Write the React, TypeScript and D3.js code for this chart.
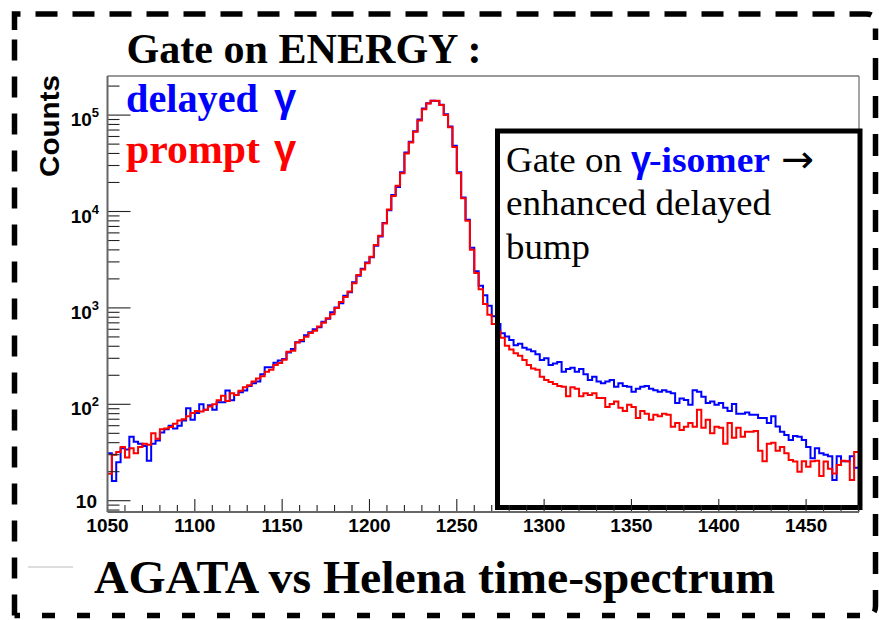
import React from "react";
import * as d3 from "d3";

// histogram binning (keV-ish channels), 2.5 per bin, first bin at 1050
const binStart = 1050;
const binWidth = 2.5;

// delayed gamma (blue)
const delayed = [
  31, 16, 25, 35, 34, 46, 41, 39, 37, 26,
  39, 42, 51, 55, 60, 56, 60, 68, 91, 69,
  81, 100, 88, 98, 88, 105, 105, 139, 110, 125,
  133, 139, 155, 165, 172, 205, 243, 243, 270, 285,
  295, 345, 375, 440, 450, 520, 560, 600, 630, 720,
  770, 900, 1010, 1120, 1340, 1450, 1850, 2150, 2550, 2950,
  3350, 4400, 5500, 7600, 10300, 14800, 18000, 25500, 41000, 53000,
  68000, 90000, 117000, 133000, 141000, 140000, 128000, 102000, 76000, 48000,
  25500, 14000, 8200, 4200, 2400, 1700, 1350, 1050, 820, 680,
  545, 505, 465, 410, 425, 385, 370, 355, 330, 288,
  300, 255, 265, 275, 218, 232, 240, 218, 232, 205,
  179, 193, 172, 165, 172, 179, 152, 165, 155, 152,
  135, 145, 152, 155, 145, 140, 135, 140, 135, 130,
  103, 115, 111, 99, 140, 135, 120, 103, 107, 99,
  103, 92, 85, 101, 80, 80, 82, 78, 78, 72,
  72, 64, 75, 59, 52, 48, 42.6, 47, 46, 42.6,
  36, 27.5, 35, 31, 30, 29, 16.4, 29, 25.7, 25.7,
  29, 22,
];

// prompt gamma (red)
const prompt = [
  19, 30, 32, 36, 28, 35, 31, 36, 39, 38,
  50, 44, 55, 56, 58, 63, 68, 70, 75, 81,
  85, 84, 88, 95, 100, 110, 123, 108, 130, 125,
  138, 150, 158, 172, 185, 195, 218, 228, 255, 268,
  290, 351, 360, 437, 464, 502, 548, 580, 640, 700,
  780, 860, 1000, 1150, 1300, 1480, 1800, 2200, 2500, 2900,
  3400, 4500, 5600, 7500, 10500, 14500, 18500, 25000, 40000, 52000,
  67000, 88000, 115000, 132000, 141000, 141000, 127000, 100000, 75000, 46800,
  24900, 13700, 8000, 4000, 2300, 1560, 1100, 850, 680, 570,
  490, 405, 370, 338, 318, 288, 255, 235, 228, 193,
  179, 170, 162, 155, 152, 121, 150, 145, 121, 130,
  125, 130, 116, 116, 94, 101, 107, 92, 85, 99,
  94, 72, 85, 80, 69, 78, 75, 80, 78, 58.6,
  64, 54, 58.6, 64, 58.6, 88, 57, 69, 50, 58.6,
  57, 39, 64, 45, 57, 46, 52, 52, 53, 33,
  25.7, 39, 40, 33, 36, 31, 26.4, 25.5, 20, 25.7,
  22.5, 25.7, 26, 18, 25.5, 21.5, 19.2, 23.5, 26, 25.7,
  16.4, 32,
];

const xTickLabels = [1050, 1100, 1150, 1200, 1250, 1300, 1350, 1400, 1450];
const yDecades = [10, 100, 1000, 10000, 100000];
const yExponents = ["", "2", "3", "4", "5"];

const SERIF = "'Liberation Serif', 'Times New Roman', serif";
const SANS = "'Liberation Sans', Arial, sans-serif";

const W = 879;
const H = 620;
const L = 107.5, R = 859, T = 76, B = 512;

export default function App() {
  const x = d3.scaleLinear().domain([1050, 1480]).range([L, 858.5]);
  const y = d3.scaleLog().domain([10, 1e5]).range([500.7, 115.1]);

  const toPts = (arr: number[]): [number, number][] => [
    ...arr.map((v, i) => [binStart + i * binWidth, v] as [number, number]),
    [binStart + arr.length * binWidth, arr[arr.length - 1]],
  ];
  const line = d3
    .line<[number, number]>()
    .x((d) => x(d[0]))
    .y((d) => y(d[1]))
    .curve(d3.curveStepAfter);

  // minor log ticks inside the frame
  const yMinor: number[] = [];
  [1, 10, 100, 1000, 10000, 100000].forEach((dec) => {
    for (let k = 2; k <= 9; k++) {
      const v = k * dec;
      const py = y(v);
      if (py > T + 1 && py < B - 1) yMinor.push(v);
    }
  });
  const xMinor = d3.range(1050, 1481, 10).filter((v) => v % 50 !== 0);

  return (
    <>
      <style>{`body{margin:0;background:#fff}`}</style>
      <svg width={W} height={H} style={{ display: "block", background: "#fff" }}>
        <defs>
          <clipPath id="plotClip">
            <rect x={L} y={T} width={R - L} height={B - T} />
          </clipPath>
          <clipPath id="hiddenTitle">
            <rect x={680} y={535} width={170} height={4} />
          </clipPath>
        </defs>

        {/* outer dashed frame */}
        <g stroke="#000" strokeWidth={5.5} fill="none">
          <path d="M14.5,30 V14 H866 Q875.5,14 875.5,23 V40" strokeDasharray="22 15" />
          <path d={`M875.5,58 V606 Q875.5,615.5 866,615.5`} strokeDasharray="22 16" />
          <path d="M866,615.5 H14.5" strokeDasharray="13 22" strokeDashoffset={-6} />
          <path d="M14.5,615.5 V30" strokeDasharray="21 16" />
        </g>

        {/* histograms */}
        <g clipPath="url(#plotClip)" fill="none" strokeWidth={2}>
          <path d={line(toPts(delayed)) || ""} stroke="#0000ff" />
          <path d={line(toPts(prompt)) || ""} stroke="#ff0000" />
        </g>

        {/* frame */}
        <g fill="none">
          <line x1={L} x2={R} y1={T} y2={T} stroke="#777" strokeWidth={1.3} />
          <line x1={R} x2={R} y1={T} y2={B} stroke="#777" strokeWidth={1.3} />
        </g>

        {/* gate box */}
        <rect x={497.5} y={131} width={362.5} height={376.5} fill="none" stroke="#000" strokeWidth={5} />

        {/* axes */}
        <g stroke="#222" strokeWidth={1.1}>
          {yDecades.map((v) => (
            <line key={"ym" + v} x1={L} x2={L + 23} y1={y(v)} y2={y(v)} />
          ))}
          {yMinor.map((v) => (
            <line key={"yn" + v} x1={L} x2={L + 12} y1={y(v)} y2={y(v)} />
          ))}
          {xTickLabels.map((v) => (
            <line key={"xm" + v} x1={x(v)} x2={x(v)} y1={B} y2={B - 13} />
          ))}
          {xMinor.map((v) => (
            <line key={"xn" + v} x1={x(v)} x2={x(v)} y1={B} y2={B - 7} />
          ))}
        </g>
        <line x1={L} x2={L} y1={T} y2={B} stroke="#666" strokeWidth={2} />
        <line x1={L} x2={R} y1={B} y2={B} stroke="#666" strokeWidth={2.2} />

        {/* y tick labels */}
        <g fontFamily={SANS} fontWeight="bold" fill="#000">
          {yDecades.map((v, i) =>
            yExponents[i] === "" ? (
              <text key={"yl" + v} x={97} y={y(v) + 7} fontSize={19} textAnchor="end">
                10
              </text>
            ) : (
              <text key={"yl" + v} x={99} y={y(v) + 11} fontSize={19} textAnchor="end">
                10
                <tspan fontSize={13} dy={-9}>
                  {yExponents[i]}
                </tspan>
              </text>
            )
          )}
          {xTickLabels.map((v) => (
            <text key={"xl" + v} x={x(v)} y={532} fontSize={19} textAnchor="middle">
              {v}
            </text>
          ))}
          <text
            transform="translate(59,126) rotate(-90)"
            fontSize={28}
            textAnchor="middle"
            textLength={102}
            lengthAdjust="spacingAndGlyphs"
          >
            Counts
          </text>
          {/* x-axis title, mostly hidden under the caption */}
          <g clipPath="url(#hiddenTitle)">
            <text x={697} y={552} fontSize={19} textLength={122} lengthAdjust="spacing">
              Δtime (ns)
            </text>
          </g>
        </g>

        {/* title and legend */}
        <text x={126.5} y={63} fontFamily={SERIF} fontWeight="bold" fontSize={42} textLength={355} lengthAdjust="spacingAndGlyphs">
          Gate on ENERGY :
        </text>
        <text x={126} y={112} fontFamily={SERIF} fontWeight="bold" fontSize={41} fill="#0000ff" textLength={132} lengthAdjust="spacingAndGlyphs">
          delayed
        </text>
        <text x={274} y={112} fontFamily={SANS} fontWeight="bold" fontSize={40} fill="#0000ff">
          γ
        </text>
        <text x={126} y={163} fontFamily={SERIF} fontWeight="bold" fontSize={41} fill="#ff0000" textLength={134} lengthAdjust="spacingAndGlyphs">
          prompt
        </text>
        <text x={274} y={163} fontFamily={SANS} fontWeight="bold" fontSize={40} fill="#ff0000">
          γ
        </text>

        {/* box annotation */}
        <g fontFamily={SERIF} fontSize={36} fill="#000">
          <text x={506} y={171.5} textLength={116} lengthAdjust="spacingAndGlyphs">
            Gate on
          </text>
          <text x={631} y={171.5} fontFamily={SANS} fontWeight="bold" fill="#0000ff">
            γ
          </text>
          <text x={649} y={171.5} fontWeight="bold" fill="#0000ff" textLength={121} lengthAdjust="spacingAndGlyphs">
            -isomer
          </text>
          <text x={781} y={172} fontFamily="'DejaVu Sans', sans-serif" fontSize={38} textLength={33} lengthAdjust="spacingAndGlyphs">
            →
          </text>
          <text x={506} y={215} textLength={265} lengthAdjust="spacingAndGlyphs">
            enhanced delayed
          </text>
          <text x={506} y={258.5} textLength={84} lengthAdjust="spacingAndGlyphs">
            bump
          </text>
        </g>

        {/* caption */}
        <line x1={28} x2={73} y1={567} y2={567} stroke="#bbb" strokeWidth={1} />
        <text x={94} y={593} fontFamily={SERIF} fontWeight="bold" fontSize={46} textLength={681} lengthAdjust="spacingAndGlyphs">
          AGATA vs Helena time-spectrum
        </text>
      </svg>
    </>
  );
}
